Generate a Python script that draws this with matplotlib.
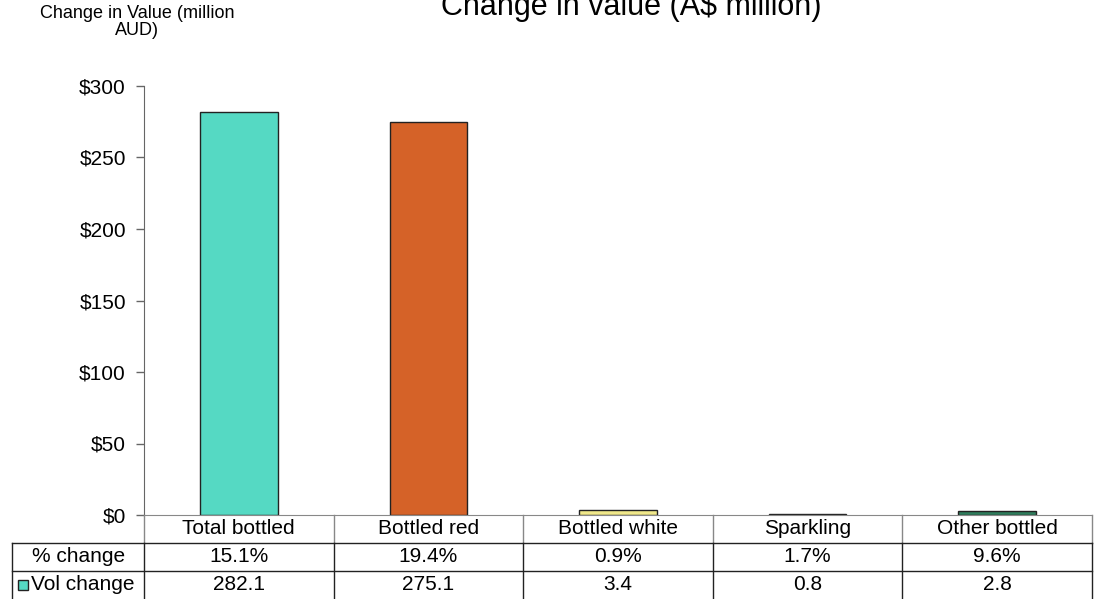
import matplotlib
matplotlib.use('Agg')
import matplotlib.pyplot as plt
from matplotlib.lines import Line2D
from matplotlib.patches import Rectangle
from matplotlib.ticker import FuncFormatter
from matplotlib.transforms import blended_transform_factory
import numpy as np

plt.rcParams['font.family'] = ['Liberation Sans', 'DejaVu Sans']

categories = ['Total bottled', 'Bottled red', 'Bottled white', 'Sparkling', 'Other bottled']
vol_change = [282.1, 275.1, 3.4, 0.8, 2.8]
pct_change = [15.1, 19.4, 0.9, 1.7, 9.6]
bar_colors = ['#55d9c3', '#d56228', '#f0e88a', '#9fb8b4', '#2e7d5c']

W, H = 1101, 599


def fx(px):
    return px / W


def fy(py):
    return 1 - py / H


fig = plt.figure(figsize=(W / 100, H / 100), dpi=100)
ax = fig.add_axes([fx(144), fy(515), fx(1092) - fx(144), fy(86) - fy(515)])

x = np.arange(len(categories))
ax.bar(x, vol_change, width=0.41, color=bar_colors, edgecolor='#222222', linewidth=1)
ax.set_xlim(-0.5, len(categories) - 0.5)
ax.set_ylim(0, 300)
ax.set_yticks(range(0, 301, 50))
ax.yaxis.set_major_formatter(FuncFormatter(lambda v, _: f'${v:.0f}'))
ax.tick_params(axis='y', length=6, width=1, color='#666666', pad=7, labelsize=15)
ax.set_xticks([])
for side in ['top', 'right']:
    ax.spines[side].set_visible(False)
ax.spines['left'].set_color('#666666')
ax.spines['bottom'].set_color('#888888')

fig.text(fx(631), fy(15), 'Change in value (A$ million)', ha='center', va='baseline', fontsize=22)
fig.text(fx(137), fy(22), 'Change in Value (million\nAUD)', ha='center', va='center',
         fontsize=13, linespacing=0.95)

# data table under the bars
trans = blended_transform_factory(ax.transData, fig.transFigure)
row_y = [fy(529), fy(557), fy(585)]
for i, cat in enumerate(categories):
    fig.text(x[i], row_y[0], cat, transform=trans, ha='center', va='center', fontsize=15)
    fig.text(x[i], row_y[1], f'{pct_change[i]:.1f}%', transform=trans, ha='center', va='center', fontsize=15)
    fig.text(x[i], row_y[2], f'{vol_change[i]:.1f}', transform=trans, ha='center', va='center', fontsize=15)

for k in range(len(categories) + 1):
    xv = k - 0.5
    fig.add_artist(Line2D([xv, xv], [fy(515), fy(543)], transform=trans, color='#888888', lw=1))
    fig.add_artist(Line2D([xv, xv], [fy(543), fy(599)], transform=trans, color='#222222', lw=1))

for yy in [543, 571]:
    fig.add_artist(Line2D([fx(12), fx(1092)], [fy(yy), fy(yy)], transform=fig.transFigure,
                          color='#222222', lw=1))
fig.add_artist(Line2D([fx(12), fx(12)], [fy(543), fy(599)], transform=fig.transFigure,
                      color='#222222', lw=1))

fig.text(fx(79), row_y[1], '% change', ha='center', va='center', fontsize=15)
fig.add_artist(Rectangle((fx(18), fy(590)), fx(10), fy(580) - fy(590), transform=fig.transFigure,
                         facecolor=bar_colors[0], edgecolor='#222222', lw=1))
fig.text(fx(31), row_y[2], 'Vol change', ha='left', va='center', fontsize=15)

fig.savefig('out.png', dpi=100)
